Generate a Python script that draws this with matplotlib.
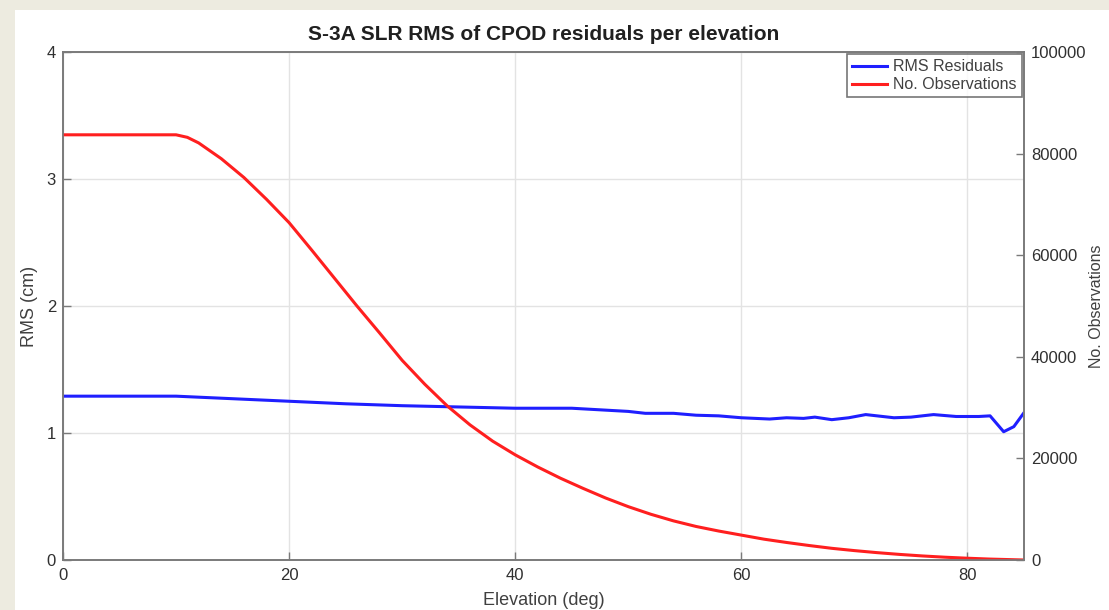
import matplotlib
matplotlib.use("Agg")
import matplotlib.pyplot as plt
from matplotlib.patches import Rectangle

# ---- data ----
rms_elev = [0, 10, 15, 20, 25, 30, 35, 40, 45, 48, 50, 51.5, 54, 56, 58, 60,
            62.5, 64, 65.5, 66.5, 68, 69.5, 71, 73.5, 75, 77, 79, 81, 82,
            83.2, 84.1, 85]
rms_vals = [1.29, 1.29, 1.27, 1.25, 1.23, 1.215, 1.205, 1.195, 1.195, 1.18,
            1.17, 1.155, 1.155, 1.14, 1.135, 1.12, 1.11, 1.12, 1.115, 1.125,
            1.105, 1.12, 1.145, 1.12, 1.125, 1.145, 1.13, 1.13, 1.135,
            1.01, 1.05, 1.16]

obs_elev = [0, 10, 11, 12, 14, 16, 18, 20, 22, 24, 26, 28, 30, 32, 34, 36, 38,
            40, 42, 44, 46, 48, 50, 52, 54, 56, 58, 60, 62, 64, 66, 68, 70,
            72, 74, 76, 78, 80, 82, 84, 85]
obs_vals = [83700, 83700, 83200, 82100, 79000, 75300, 71000, 66400, 61000,
            55500, 50000, 44700, 39300, 34600, 30300, 26600, 23400, 20700,
            18300, 16100, 14100, 12200, 10500, 9000, 7700, 6600, 5700, 4900,
            4100, 3450, 2850, 2300, 1850, 1450, 1100, 800, 550, 350, 180, 60, 0]

x_ticks = [0, 20, 40, 60, 80]
left_ticks = [0, 1, 2, 3, 4]
right_ticks = [0, 20000, 40000, 60000, 80000, 100000]

title = "S-3A SLR RMS of CPOD residuals per elevation"

plt.rcParams['font.family'] = ['Liberation Sans', 'DejaVu Sans']

W, H = 1109, 610
fig = plt.figure(figsize=(W / 100, H / 100), dpi=100)
fig.patch.set_facecolor('#EDEBE0')
fig.patches.append(Rectangle((15 / W, 0), 1 - 15 / W, 1 - 10 / H,
                             transform=fig.transFigure, facecolor='white',
                             edgecolor='none', zorder=-10))

left, right, top, bottom = 63, 1024, 52, 560
ax = fig.add_axes([left / W, 1 - bottom / H, (right - left) / W, (bottom - top) / H])
ax2 = ax.twinx()

spine_col = '#7a7a7a'
tick_col = '#303030'

l1, = ax.plot(rms_elev, rms_vals, color='#1f1fff', lw=2.2, label='RMS Residuals')
l2, = ax2.plot(obs_elev, obs_vals, color='#ff1f1f', lw=2.2, label='No. Observations')

ax.set_xlim(0, 85)
ax.set_ylim(0, 4)
ax2.set_ylim(0, 100000)
ax.set_xticks(x_ticks)
ax.set_yticks(left_ticks)
ax2.set_yticks(right_ticks)

ax.grid(True, color='#e3e3e3', lw=1)
ax.set_axisbelow(True)

for a in (ax, ax2):
    for s in a.spines.values():
        s.set_color(spine_col)
        s.set_linewidth(1.2)
    a.tick_params(direction='in', length=6, width=1, color=spine_col,
                  labelcolor=tick_col, labelsize=12)
ax.tick_params(axis='x', pad=6)
ax.tick_params(axis='y', pad=5)
ax2.tick_params(axis='y', pad=5)

ax.set_title(title, fontsize=15, fontweight='bold', color='#202020', pad=9)
ax.set_xlabel('Elevation (deg)', fontsize=13, color='#404040', labelpad=6)
ax.set_ylabel('RMS (cm)', fontsize=13, color='#404040', labelpad=6)
ax2.set_ylabel('No. Observations', fontsize=11.5, color='#404040', labelpad=2)

leg = ax2.legend(handles=[l1, l2], loc='upper right', fontsize=11.5,
                 frameon=True, fancybox=False, borderaxespad=0.15,
                 handlelength=2.2, handletextpad=0.4, borderpad=0.3,
                 labelspacing=0.2)
leg.get_frame().set_edgecolor('#555555')
leg.get_frame().set_linewidth(1.2)
for t in leg.get_texts():
    t.set_color('#404040')

fig.savefig('out.png', dpi=100, facecolor=fig.get_facecolor())
